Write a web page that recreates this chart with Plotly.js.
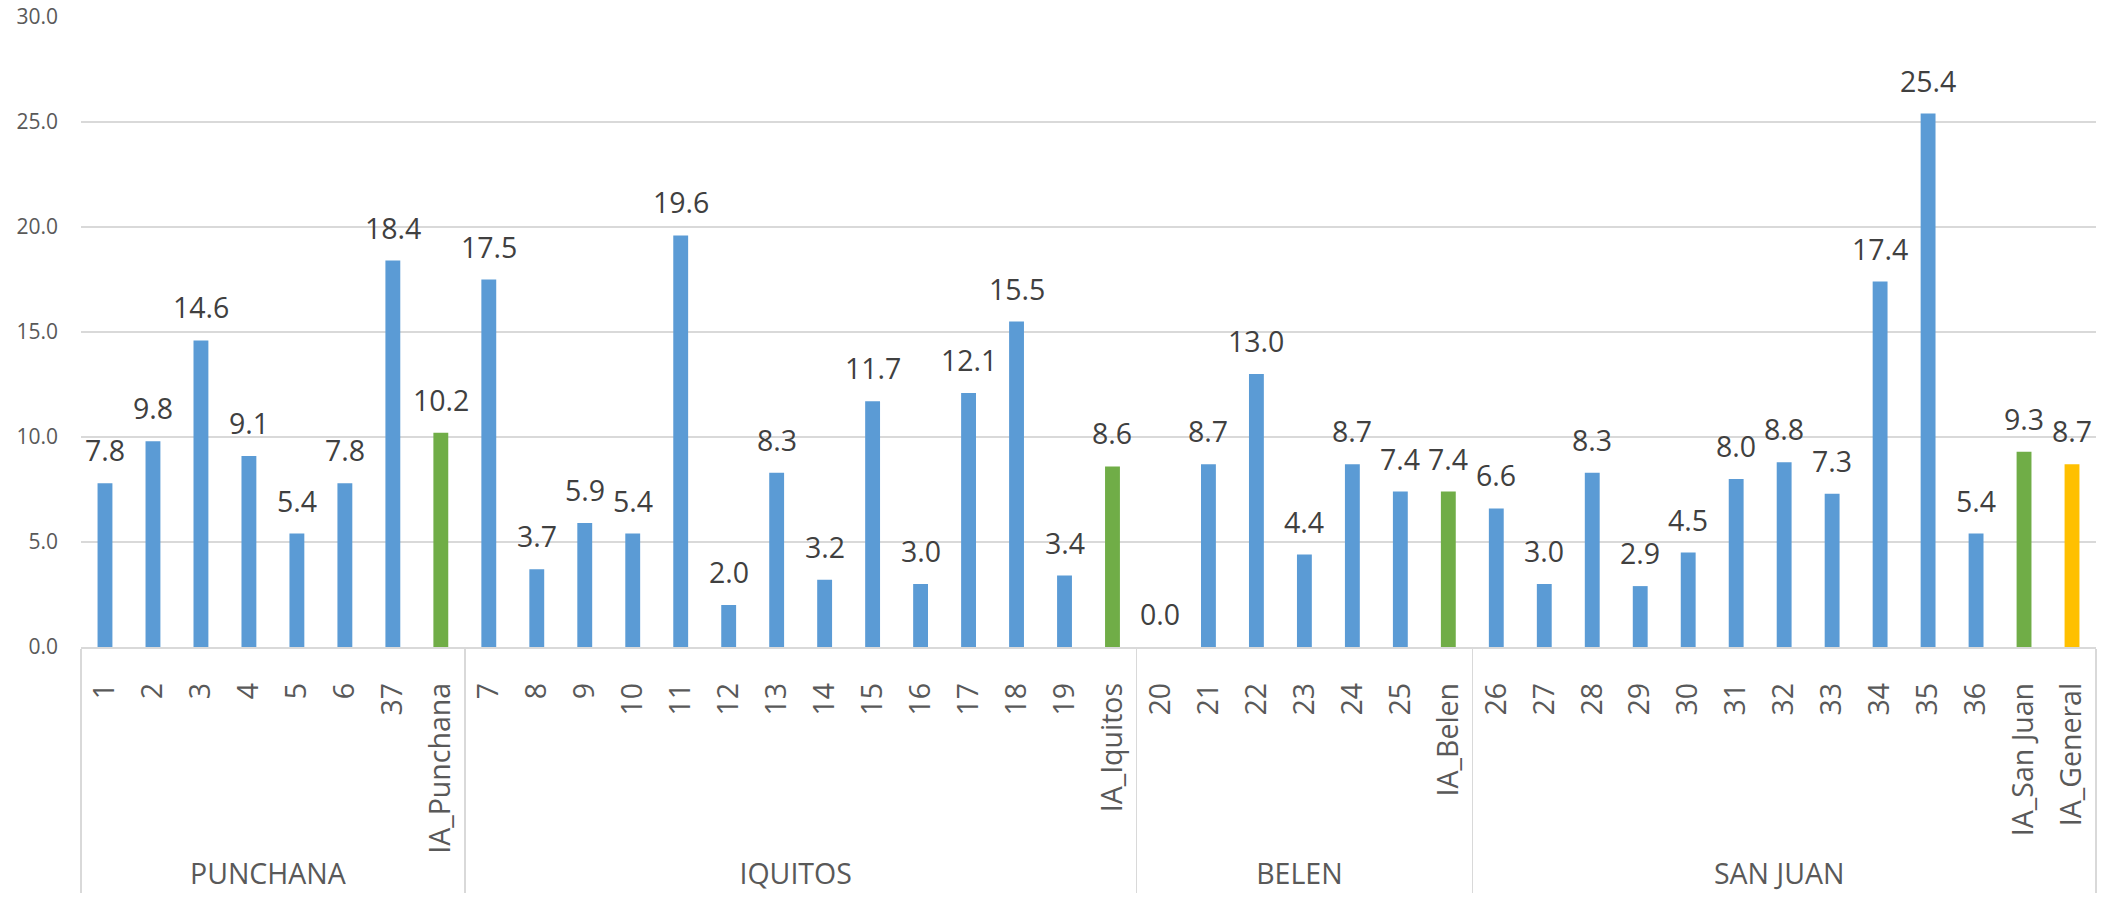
<!DOCTYPE html>
<html><head><meta charset="utf-8">
<script src="https://cdn.plot.ly/plotly-3.0.1.min.js"></script>
<style>html,body{margin:0;padding:0;background:#fff}#chart{width:2108px;height:900px}</style>
</head><body><div id="chart"></div>
<script>
const districts = ["PUNCHANA", "IQUITOS", "BELEN", "SAN JUAN"];

const punchanaLabels = ["1", "2", "3", "4", "5", "6", "37", "IA_Punchana"];
const punchanaValues = [7.8, 9.8, 14.6, 9.1, 5.4, 7.8, 18.4, 10.2];

const iquitosLabels = ["7", "8", "9", "10", "11", "12", "13", "14", "15", "16", "17", "18", "19", "IA_Iquitos"];
const iquitosValues = [17.5, 3.7, 5.9, 5.4, 19.6, 2.0, 8.3, 3.2, 11.7, 3.0, 12.1, 15.5, 3.4, 8.6];

const belenLabels = ["20", "21", "22", "23", "24", "25", "IA_Belen"];
const belenValues = [0.0, 8.7, 13.0, 4.4, 8.7, 7.4, 7.4];

const sanJuanLabels = ["26", "27", "28", "29", "30", "31", "32", "33", "34", "35", "36", "IA_San Juan", "IA_General"];
const sanJuanValues = [6.6, 3.0, 8.3, 2.9, 4.5, 8.0, 8.8, 7.3, 17.4, 25.4, 5.4, 9.3, 8.7];

const yTickValues = [0, 5, 10, 15, 20, 25, 30];

const labelSets = [punchanaLabels, iquitosLabels, belenLabels, sanJuanLabels];
const valueSets = [punchanaValues, iquitosValues, belenValues, sanJuanValues];

const groupCol = [], labelCol = [], values = [];
labelSets.forEach((labs, gi) => {
  labs.forEach((l, i) => {
    groupCol.push(districts[gi]);
    labelCol.push(l);
    values.push(valueSets[gi][i]);
  });
});

const BLUE = "#5B9BD5", GREEN = "#70AD47", GOLD = "#FFC000";
const colors = labelCol.map(l => l === "IA_General" ? GOLD : (l.indexOf("IA_") === 0 ? GREEN : BLUE));

const trace = {
  type: "bar",
  x: [groupCol, labelCol],
  y: values,
  marker: { color: colors, line: { width: 0 } },
  hoverinfo: "x+y"
};

const annotations = values.map((v, i) => ({
  xref: "x", yref: "y",
  x: i, y: v,
  text: v.toFixed(1),
  showarrow: false,
  yanchor: "bottom",
  yshift: 12,
  font: { family: "Open Sans", size: 28.5, color: "#404040" }
}));

const layout = {
  width: 2108, height: 900,
  margin: { l: 81, r: 12, t: 17, b: 253 },
  paper_bgcolor: "#FFFFFF",
  plot_bgcolor: "#FFFFFF",
  showlegend: false,
  bargap: 0.69,
  font: { family: "Open Sans", color: "#595959" },
  xaxis: {
    type: "multicategory",
    tickangle: -90,
    showline: true,
    linecolor: "#D9D9D9",
    linewidth: 1.5,
    showgrid: false,
    zeroline: false,
    ticks: "",
    showdividers: true,
    dividercolor: "#D9D9D9",
    dividerwidth: 1.5,
    ticklabelstandoff: 23,
    tickfont: { family: "Open Sans", size: 28.5, color: "#595959" }
  },
  yaxis: {
    range: [0, 30],
    tickvals: yTickValues,
    tickformat: ".1f",
    showgrid: true,
    gridcolor: "#D9D9D9",
    gridwidth: 1.3,
    zeroline: false,
    showline: false,
    ticks: "",
    ticklabelstandoff: 22,
    tickfont: { family: "Open Sans", size: 21, color: "#595959" }
  },
  annotations: annotations
};

Plotly.newPlot("chart", [trace], layout, { displayModeBar: false, staticPlot: true });
</script>
</body></html>
